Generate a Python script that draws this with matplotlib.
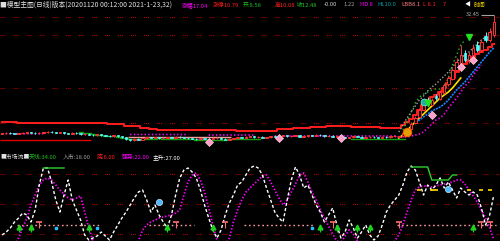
import matplotlib
matplotlib.use('Agg')
import matplotlib.pyplot as plt
import numpy as np

plt.rcParams['font.family'] = ['Noto Sans CJK SC', 'DejaVu Sans']
plt.rcParams['lines.scale_dashes'] = False

nan = np.nan

# ---------------- price data (bar index 0..119) ----------------
close = [8.4, 8.5, 8.4, 8.3, 8.4, 8.5, 8.6, 8.5, 8.4, 8.5,
         8.6, 8.7, 8.6, 8.5, 8.6, 8.4, 8.3, 8.5, 8.4, 8.2,
         8.3, 8.1, 8.0, 8.2, 8.0, 7.9, 7.8, 8.0, 7.8, 7.6,
         7.2, 7.0, 7.3, 7.1, 7.4, 7.6, 7.5, 7.6, 7.4, 7.5,
         7.6, 7.5, 7.7, 7.6, 7.5, 7.4, 7.3, 7.2, 7.4, 7.3,
         7.2, 7.4, 7.5, 7.3, 7.1, 7.3, 7.4, 7.6, 7.5, 7.7,
         7.8, 7.6, 7.7, 7.5, 7.6, 7.8, 7.7, 7.9, 8.0, 7.8,
         7.9, 8.0, 7.7, 7.8, 8.0, 7.9, 8.1, 8.0, 7.8, 7.9,
         7.7, 7.8, 7.6, 7.5, 7.6, 7.8, 7.7, 7.5, 7.6, 7.7,
         7.6, 7.5, 7.7, 7.6, 7.8, 7.9, 7.8, 8.4, 9.0, 10.2,
         11.4, 13.0, 14.6, 14.2, 15.0, 15.4, 16.6, 18.0, 19.4, 21.0,
         22.6, 24.0, 23.0, 24.0, 25.4, 25.0, 26.6, 27.0, 28.6, 30.6]
open_ = [8.3, 8.4, 8.5, 8.4, 8.3, 8.4, 8.5, 8.6, 8.5, 8.4,
         8.5, 8.6, 8.7, 8.6, 8.5, 8.6, 8.4, 8.3, 8.5, 8.4,
         8.2, 8.3, 8.1, 8.0, 8.2, 8.0, 7.9, 7.8, 8.0, 7.8,
         7.6, 7.2, 7.0, 7.3, 7.1, 7.4, 7.6, 7.5, 7.6, 7.4,
         7.5, 7.6, 7.5, 7.7, 7.6, 7.5, 7.4, 7.3, 7.2, 7.4,
         7.3, 7.2, 7.4, 7.5, 7.3, 7.1, 7.3, 7.4, 7.6, 7.5,
         7.7, 7.8, 7.6, 7.7, 7.5, 7.6, 7.8, 7.7, 7.9, 8.0,
         7.8, 7.9, 8.0, 7.7, 7.8, 8.0, 7.9, 8.1, 8.0, 7.8,
         7.9, 7.7, 7.8, 7.6, 7.5, 7.6, 7.8, 7.7, 7.5, 7.6,
         7.7, 7.6, 7.5, 7.7, 7.6, 7.8, 7.7, 7.8, 8.4, 9.2,
         10.4, 11.6, 13.0, 15.0, 14.0, 15.8, 15.2, 16.4, 18.2, 19.2,
         21.0, 22.4, 24.4, 22.8, 24.0, 26.0, 25.0, 27.8, 27.0, 28.0]
high = [8.5, 8.6, 8.6, 8.5, 8.5, 8.6, 8.7, 8.7, 8.6, 8.6,
        8.7, 8.8, 8.8, 8.7, 8.7, 8.7, 8.5, 8.6, 8.6, 8.5,
        8.4, 8.4, 8.2, 8.3, 8.3, 8.1, 8.0, 8.1, 8.1, 7.9,
        7.7, 7.3, 7.4, 7.4, 7.5, 7.7, 7.7, 7.7, 7.7, 7.6,
        7.7, 7.7, 7.8, 7.8, 7.7, 7.6, 7.5, 7.4, 7.5, 7.5,
        7.4, 7.5, 7.6, 7.6, 7.4, 7.4, 7.5, 7.7, 7.7, 7.8,
        7.9, 7.9, 7.8, 7.8, 7.7, 7.9, 7.9, 8.0, 8.1, 8.1,
        8.0, 8.1, 8.1, 7.9, 8.1, 8.1, 8.2, 8.2, 8.1, 8.0,
        8.0, 7.9, 7.9, 7.7, 7.7, 7.9, 7.9, 7.8, 7.7, 7.8,
        7.8, 7.7, 7.8, 7.8, 7.9, 8.0, 7.9, 8.6, 9.4, 10.6,
        11.8, 13.4, 15.2, 15.6, 15.4, 16.2, 17.0, 18.4, 19.8, 21.4,
        23.4, 26.0, 25.0, 24.6, 26.2, 26.8, 27.2, 28.6, 29.4, 32.0]
low = [8.2, 8.3, 8.3, 8.2, 8.2, 8.3, 8.4, 8.4, 8.3, 8.3,
       8.4, 8.5, 8.5, 8.4, 8.4, 8.3, 8.2, 8.2, 8.3, 8.1,
       8.1, 8.0, 7.9, 7.9, 7.9, 7.8, 7.7, 7.7, 7.7, 7.5,
       7.1, 6.9, 6.9, 7.0, 7.0, 7.3, 7.4, 7.4, 7.3, 7.3,
       7.4, 7.4, 7.4, 7.5, 7.4, 7.3, 7.2, 7.1, 7.1, 7.2,
       7.1, 7.1, 7.3, 7.2, 7.0, 7.0, 7.2, 7.3, 7.4, 7.4,
       7.6, 7.5, 7.5, 7.4, 7.4, 7.5, 7.6, 7.6, 7.8, 7.7,
       7.7, 7.8, 7.6, 7.6, 7.7, 7.8, 7.8, 7.9, 7.7, 7.7,
       7.6, 7.6, 7.5, 7.4, 7.4, 7.5, 7.6, 7.4, 7.4, 7.5,
       7.5, 7.4, 7.4, 7.5, 7.5, 7.7, 7.6, 7.7, 8.2, 9.0,
       10.2, 11.4, 12.8, 13.8, 13.8, 15.0, 15.0, 16.2, 17.8, 19.0,
       20.8, 22.0, 22.6, 22.4, 23.6, 24.6, 24.6, 26.6, 26.6, 27.6]

# upper red band (step line)
red_band = ([10.55] * 4 + [10.35] * 14 + [10.45] * 4 + [10.35] * 4 + [10.2] * 4 +
            [9.9] * 2 + [9.75] * 2 + [9.4] * 2 + [9.2] * 2 + [9.05] * 19 + [8.9] * 10 +
            [9.2] * 4 + [9.4] * 4 + [9.6] * 4 + [9.8] * 6 + [9.6] * 7 + [9.4] * 4 +
            [9.4, 10.0, 10.6, 11.2, 12.0, 13.0, 14.0, 15.0, 15.6, 16.0, 16.6, 17.4,
             18.4, 19.4, 20.6, 21.4, 22.2, 23.0, 23.6, 24.2, 24.6, 25.0, 25.6, 26.2])
# lower magenta dotted band
mag_band = ([8.25] * 11 + [nan] * 20 + [8.1] * 15 + [nan] * 4 + [8.0] * 12 + [nan] * 4 +
            [7.8] * 30 + [7.6] * 3 +
            [7.8, 8.0, 8.2, 8.6, 9.4, 10.2, 11.0, 11.4, 12.2, 13.4, 14.4, 15.4,
             16.6, 17.8, 18.6, 20.0, 21.0, 22.0, nan, nan, nan])
# green MA
green_ma = ([nan] * 19 + [8.6, 8.5, 8.4, 8.2, 8.1, 8.0, 7.9, 7.9, 7.8, 7.6, 7.5, 7.4] +
            [7.2] * 7 + [7.4, 7.2] + [7.3] * 7 + [7.1] * 8 + [7.2] * 8 + [nan] * 22 +
            [7.2] * 13 + [nan] * 22)
# rise-phase lines (bars 96..119)
pad = [nan] * 96
gray_up = pad + [8.6, 10.0, 11.4, 12.6, 13.8, 15.0, 15.8, 16.8, 17.6, 18.2, 19.0, 19.8,
                 20.6, 21.6, 22.6, 23.4, 24.0, 24.6, 25.4, 26.2, 27.0, 27.6, 28.4, 29.0]
green_up = pad + [nan, 9.0, 10.6, 12.6, 14.4, 15.6, 16.2, 16.6, 17.0, 17.2, 17.2, 17.6,
                  19.4, 22.0, 24.0, 26.0, 27.0, nan, nan, nan, nan, nan, nan, nan]
yellow_up = pad + [7.4, 8.0, 8.8, 9.8, 10.6, 11.4, 12.2, 13.0, 13.8, 14.6, 15.4, 16.0,
                   16.6, 17.4, 18.4, 19.4, nan, nan, nan, nan, nan, nan, nan, nan]
blue_up = pad + [nan, nan, nan, nan, 10.6, 11.0, 11.6, 12.2, 12.8, 13.2, 13.6, 14.2,
                 15.0, 16.0, 17.0, 17.8, 18.6, 19.6, 20.6, 21.6, 22.6, 23.6, 24.6, 25.4]

grid_top = [31.6, 28.0, 17.4, 10.4]
support_level, support_span = 7.0, (0, 21)
salmon_level, salmon_span = 7.7, (31, 55)

pink_marks = [(50, 6.6), (67, 7.4), (82, 7.4), (104, 12.0), (111, 21.6), (114, 23.0)]
orange_mark = (98, 8.6)
teal_mark = (102, 14.6)
green_tri = [(103, 14.4), (113, 27.6)]
max_label = "32.45"

# ---------------- oscillator data ----------------
osc_k = [19, 22, 26, 32, 36, 41, 39, 32, 44, 69,
         86, 86, 72, 54, 42, 59, 74, 54, 44, 34,
         19, 14, 16, 18, 22, 18, 14, 22, 29, 36,
         42, 49, 56, 62, 64, 54, 42, 49, 39, 32,
         26, 39, 59, 76, 84, 86, 82, 76, 64, 49,
         36, 24, 16, 24, 39, 51, 59, 69, 72, 79,
         86, 88, 86, 79, 66, 54, 42, 36, 32, 54,
         74, 87, 79, 66, 69, 59, 49, 42, 32, 39,
         46, 29, 16, 22, 34, 26, 16, 22, 29, 19,
         14, 18, 29, 42, 49, 54, 59, 69, 82, 88,
         84, 72, 59, 69, 64, 69, 76, 66, 72, 64,
         56, 66, 62, 59, 62, 59, 46, 29, 39, 59]
osc_d = [8, 8, 8, 8, 16, 26, 36, 49, 59, 69,
         74, 76, 74, 69, 64, 60, 56, 54, 56, 58,
         42, 26, 13, 8, 8, 8, 8, 8, 8, 8,
         8, 8, 8, 13, 24, 29, 32, 34, 36, 37,
         38, 39, 41, 44, 59, 72, 79, 81, 74, 62,
         46, 29, 14, 9, 9, 16, 32, 44, 54, 62,
         66, 70, 74, 78, 79, 72, 64, 56, 49, 54,
         62, 70, 79, 81, 72, 62, 54, 44, 36, 28,
         20, 13, 11, 18, 24, 20, 13, 8, 8, 8,
         8, 8, 8, 8, 8, 13, 19, 29, 42, 54,
         64, 67, 68, 68, 67, 68, 69, 70, 71, 72,
         74, 74, 70, 64, 58, 52, 44, 36, 26, 14]
osc_green = ([nan] * 10 + [86] * 6 + [nan] * 83 + [87] * 5 + [74] * 5 + [79, 79] + [nan] * 9)
grid_bot = [80, 50, 20]
ref_level = 29
ref_spans = [(4, 23), (36, 46), (59, 75), (96, 119)]
up_arrows = [4, 7, 21, 40, 51, 77, 81, 86, 89, 114]
down_arrows = [9, 42, 54, 80, 96, 116, 118]
blue_marks = [(38, 52), (108, 65)]
cyan_marks = [13, 23, 75]
yellow_marks = [101, 104, 105, 113, 116, 118]

# ---------------- drawing ----------------
W, H = 500, 241
fig = plt.figure(figsize=(5, 2.41), dpi=100, facecolor='black')
ax1 = fig.add_axes([0, 1 - 150 / H, 1, 150 / H])
ax2 = fig.add_axes([0, 0, 1, 90 / H])
for ax in (ax1, ax2):
    ax.set_facecolor('black')
    ax.set_xlim(-0.5, 120.5)
    ax.set_axis_off()
ax1.set_ylim(5, 35)
ax2.set_ylim(13, 103)

x = np.arange(len(close))
c = np.array(close); o = np.array(open_); hi = np.array(high); lo = np.array(low)
grid_style = (0, (0.7, 0.7, 0.7, 0.7, 0.7, 5.9))
for g in grid_top:
    ax1.axhline(g, color='#C00000', lw=0.8, ls=grid_style, zorder=1)
for g in grid_bot:
    ax2.axhline(g, color='#C00000', lw=0.8, ls=grid_style, zorder=1)

# top panel lines
ax1.plot(x, red_band, color='#FF1E1E', lw=1.4, drawstyle='steps-mid', zorder=3)
ax1.hlines(support_level, support_span[0] - 0.5, support_span[1] + 0.5, color='#E00000', lw=1.0, zorder=2)
ax1.hlines(salmon_level, salmon_span[0] - 0.5, salmon_span[1] + 0.5, color='#FF9A9A', lw=1.0, zorder=2)
ax1.plot(x, green_ma, color='#10A010', lw=1.0, drawstyle='steps-mid', zorder=2)
ax1.plot(x, mag_band, color='#FF00FF', lw=1.2, ls=(0, (1.0, 1.6)), zorder=3)
ax1.plot(x, gray_up, color='#A0A0A0', lw=1.0, ls=(0, (1.0, 1.4)), zorder=3)
ax1.plot(x, green_up, color='#20C020', lw=1.0, ls=(0, (1.0, 2.0)), zorder=3)
ax1.plot(x, yellow_up, color='#FFE000', lw=1.2, zorder=3)
ax1.plot(x, blue_up, color='#2080FF', lw=1.2, ls=(0, (1.5, 0.7)), zorder=3)

# candles
up = c >= o
wick_col = np.where(up, '#FF3232', '#54FCFC')
ax1.vlines(x, lo, hi, colors=wick_col, lw=0.7, zorder=4)
ax1.bar(x[up], (c - o)[up], bottom=o[up], width=0.6, color='black',
        edgecolor='#FF3232', linewidth=0.7, zorder=5)
ax1.bar(x[~up], (o - c)[~up], bottom=c[~up], width=0.6, color='#54FCFC',
        edgecolor='#54FCFC', linewidth=0.5, zorder=5)

# markers top
for px, py in pink_marks:
    ax1.plot(px, py, marker='D', ms=4.5, color='#FF9EC8', mec='#FFD0E0', mew=0.5, zorder=6)
ax1.plot(*orange_mark, marker='o', ms=6, color='#E0A000', mec='#FF6000', mew=0.8, zorder=6)
ax1.plot(*teal_mark, marker='o', ms=5, color='#20B0A0', mec='#60FFE0', mew=0.5, zorder=6)
for px, py in green_tri:
    ax1.plot(px, py, marker='v', ms=4, color='#20E020', zorder=6)
ax1.hlines(high[-1], len(close) - 4, len(close) - 1, color='#A0A0A0', lw=0.8, zorder=6)
ax1.text(len(close) - 4.3, high[-1], max_label, color='#B0B0B0', fontsize=4.0,
         ha='right', va='center', zorder=7)

# bottom panel
for s, e in ref_spans:
    ax2.hlines(ref_level, s - 0.5, e + 0.5, color='#FF9A9A', lw=1.0, ls=(0, (1.2, 2.0)), zorder=2)
ax2.plot(x, osc_d, color='#FF00FF', lw=1.3, ls=(0, (1.0, 1.4)), zorder=3)
ax2.plot(x, osc_k, color='white', lw=1.0, ls=(0, (2.2, 1.6)), zorder=4)
ax2.plot(x, osc_green, color='#30D030', lw=1.0, zorder=4)
for i in up_arrows:
    ax2.plot(i, 27, marker='^', ms=3.5, color='#20D020', zorder=5)
    ax2.vlines(i, 22, 27, color='#20D020', lw=0.8, zorder=5)
for i in down_arrows:
    ax2.plot(i, 32, marker='_', ms=4, mew=1.2, color='#FF7070', zorder=5)
    ax2.vlines(i, 26, 32, color='#FF7070', lw=0.8, zorder=5)
for px, py in blue_marks:
    ax2.plot(px, py, marker='o', ms=4.5, color='#50B8FF', mec='#C0E8FF', mew=0.5, zorder=6)
for i in cyan_marks:
    ax2.plot(i, 26, marker='s', ms=1.8, color='#20C0FF', zorder=5)
for i in yellow_marks:
    ax2.plot(i, 64, marker='_', ms=3, mew=1.2, color='#FFE000', zorder=5)

# header texts
def ftext(px, py, s, col, fs=4.2):
    fig.text(px / W, 1 - py / H, s, color=col, fontsize=fs, ha='left', va='center')

ftext(0, 5, "■模型主图(日线)版本(20201120 00:12:00 2021-1-23,32)", '#E0E0E0', 4.9)
ftext(182, 5, "涨幅17.04", '#FF00FF')
ftext(213, 5, "涨停10.79", '#FF2020')
ftext(243, 5, "开:8.58", '#20C020')
ftext(275, 5, "高10.08", '#FF2020')
ftext(297, 5, "收12.48", '#20C020')
ftext(324, 5, "-0.00", '#D0D0D0')
ftext(343, 5, "1.22", '#A0A0A0')
ftext(360, 5, "HD 8", '#FF00FF')
ftext(377, 5, "HL10.0", '#00A0A0')
ftext(401, 5, "LBB8.1", '#FF8080')
ftext(423, 5, "L 8.1", '#FF2020')
ftext(443, 5, "7", '#FF2020')
ftext(465, 5, "◀", '#FFFFFF')
ftext(474, 5, "时间", '#FFE000')

ftext(0, 157, "■市场流■", '#E0E0E0')
ftext(29, 157, "天线:34.00", '#20C020')
ftext(63, 157, "入市:18.00", '#A0A0A0')
ftext(97, 157, "底:6.00", '#FF2020')
ftext(122, 157, "强势:22.00", '#FF00FF')
ftext(153, 157, "主升:27.00", '#FFFFFF')

fig.savefig('out.png', dpi=100, facecolor='black')
